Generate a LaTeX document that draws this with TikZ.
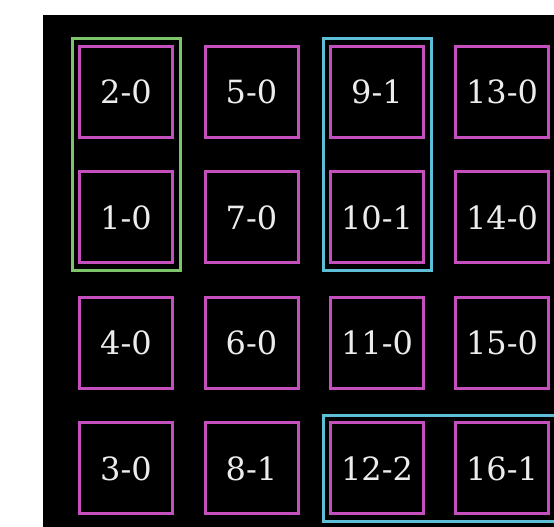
\documentclass[tikz,border=0pt]{standalone}
\usepackage{fontspec}
\setmainfont{DejaVu Serif}
\usetikzlibrary{fit}
\definecolor{CellPink}{HTML}{C64FBE}
\definecolor{GrpGreen}{HTML}{7DC46B}
\definecolor{GrpCyan}{HTML}{5CBFD6}
\definecolor{CellText}{HTML}{ECECEC}

\tikzset{
  cell/.style={draw=CellPink,line width=3pt,minimum width=93pt,minimum height=91pt,
    inner sep=0pt,text=CellText,font=\fontsize{32}{32}\selectfont},
  grp/.style={draw=#1,line width=3pt,inner sep=6pt}
}

\begin{document}
\begin{tikzpicture}[x=1pt,y=1pt]
\path[use as bounding box] (0,0) rectangle (554,527);
\fill[black] (43,0) rectangle (554,512);
% row 1
\node[cell] (c20) at (126,435) {2-0};
\node[cell] (c50) at (251.5,435) {5-0};
\node[cell] (c91) at (377,435) {9-1};
\node[cell] (c130) at (502,435) {13-0};
% row 2
\node[cell] (c10) at (126,309.5) {1-0};
\node[cell] (c70) at (251.5,309.5) {7-0};
\node[cell] (c101) at (377,309.5) {10-1};
\node[cell] (c140) at (502,309.5) {14-0};
% row 3
\node[cell] (c40) at (126,184) {4-0};
\node[cell] (c60) at (251.5,184) {6-0};
\node[cell] (c110) at (377,184) {11-0};
\node[cell] (c150) at (502,184) {15-0};
% row 4
\node[cell] (c30) at (126,58.5) {3-0};
\node[cell] (c81) at (251.5,58.5) {8-1};
\node[cell] (c122) at (377,58.5) {12-2};
\node[cell] (c161) at (502,58.5) {16-1};
% groups
\node[grp=GrpGreen,fit=(c20)(c10)] (gA) {};
\node[grp=GrpCyan,fit=(c91)(c101)] (gB) {};
\node[grp=GrpCyan,fit=(c122)(c161)] (gC) {};
\end{tikzpicture}
\end{document}
